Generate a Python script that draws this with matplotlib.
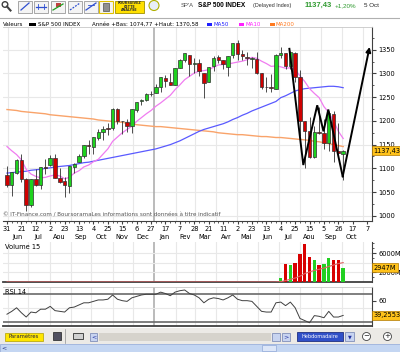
import numpy as np
import pandas as pd
import matplotlib
matplotlib.use("Agg")
import matplotlib.pyplot as plt
import matplotlib.dates as mdates
import matplotlib.transforms as mtransforms
from matplotlib.patches import Rectangle, Circle

# ---- weekly S&P 500 data ----
weeks = pd.date_range("2010-05-31", periods=71, freq="7D")

opens = [1087, 1065, 1091, 1117, 1077, 1023, 1078, 1065, 1103, 1107, 1122, 1079, 1073, 1063, 1103,
         1113, 1126, 1149, 1144, 1165, 1177, 1185, 1185, 1226, 1200, 1198, 1189, 1223, 1242, 1245,
         1256, 1258, 1271, 1290, 1283, 1276, 1311, 1329, 1340, 1321, 1322, 1302, 1281, 1315, 1334,
         1329, 1313, 1338, 1365, 1341, 1334, 1331, 1331, 1301, 1272, 1272, 1268, 1340, 1343, 1316,
         1344, 1292, 1199, 1179, 1124, 1177, 1174, 1153, 1214, 1136, 1131]
highs = [1106, 1092, 1119, 1131, 1079, 1078, 1099, 1103, 1120, 1128, 1130, 1100, 1081, 1105, 1112,
         1131, 1149, 1160, 1167, 1184, 1189, 1196, 1227, 1227, 1200, 1203, 1226, 1240, 1247, 1259,
         1263, 1278, 1293, 1296, 1302, 1311, 1330, 1344, 1340, 1333, 1331, 1302, 1314, 1337, 1339,
         1329, 1337, 1364, 1371, 1349, 1346, 1334, 1346, 1302, 1292, 1298, 1341, 1356, 1343, 1347,
         1346, 1307, 1199, 1208, 1190, 1230, 1204, 1220, 1220, 1195, 1138]
lows = [1061, 1042, 1088, 1071, 1011, 1018, 1063, 1056, 1089, 1106, 1079, 1069, 1040, 1048, 1091,
        1113, 1122, 1131, 1131, 1159, 1159, 1171, 1181, 1194, 1173, 1177, 1174, 1219, 1233, 1241,
        1252, 1258, 1262, 1271, 1275, 1276, 1311, 1324, 1294, 1302, 1294, 1249, 1281, 1306, 1322,
        1309, 1295, 1332, 1329, 1329, 1318, 1311, 1298, 1268, 1262, 1262, 1268, 1333, 1309, 1309,
        1282, 1168, 1101, 1121, 1122, 1172, 1140, 1136, 1114, 1127, 1075]
closes = [1064.9, 1091.6, 1117.5, 1076.8, 1022.6, 1078.0, 1064.9, 1102.7, 1101.6, 1121.6, 1079.3,
          1071.7, 1064.6, 1104.5, 1109.6, 1125.6, 1148.7, 1146.2, 1165.2, 1176.2, 1183.1, 1183.3,
          1225.9, 1199.2, 1199.7, 1189.4, 1224.7, 1240.4, 1243.9, 1256.8, 1257.6, 1271.5, 1293.2,
          1283.4, 1276.3, 1310.9, 1329.2, 1343.0, 1319.9, 1321.2, 1304.3, 1279.2, 1313.8, 1332.4,
          1328.2, 1319.7, 1337.4, 1363.6, 1340.2, 1337.8, 1333.3, 1331.1, 1300.2, 1271.0, 1271.5,
          1268.5, 1339.7, 1343.8, 1316.1, 1345.0, 1292.3, 1199.4, 1178.8, 1123.5, 1176.8, 1174.0,
          1154.2, 1216.0, 1136.4, 1131.4, 1137.43]

ma10 = [1146, 1137, 1129, 1118, 1098, 1088, 1083, 1080, 1081, 1084, 1086, 1084, 1078, 1081, 1090,
        1095, 1103, 1107, 1114, 1119, 1130, 1141, 1157, 1166, 1175, 1182, 1189, 1199, 1207, 1215,
        1222, 1231, 1238, 1246, 1254, 1266, 1276, 1287, 1294, 1301, 1305, 1306, 1308, 1313, 1318,
        1319, 1320, 1322, 1324, 1326, 1329, 1334, 1332, 1326, 1321, 1315, 1316, 1314, 1311, 1312,
        1308, 1295, 1283, 1268, 1258, 1249, 1230, 1218, 1200, 1178, 1163]
ma50 = [1090, 1091, 1092, 1093, 1094, 1096, 1097, 1098, 1100, 1101, 1103, 1104, 1105, 1106, 1108,
        1110, 1112, 1113, 1115, 1117, 1119, 1121, 1123, 1125, 1127, 1129, 1131, 1133, 1135, 1137,
        1139, 1141, 1144, 1147, 1150, 1154, 1158, 1163, 1168, 1173, 1178, 1182, 1185, 1188, 1191,
        1194, 1198, 1203, 1207, 1212, 1216, 1221, 1225, 1229, 1233, 1237, 1241, 1249, 1253, 1258,
        1263, 1266, 1268, 1269, 1270, 1271, 1272, 1273, 1273, 1272, 1270]
ma200 = [1224, 1223, 1222, 1220, 1219, 1218, 1217, 1216, 1215, 1213, 1212, 1211, 1210, 1209, 1208,
         1207, 1206, 1205, 1204, 1202, 1201, 1200, 1199, 1198, 1197, 1195, 1194, 1192, 1191, 1190,
         1189, 1188, 1188, 1187, 1186, 1185, 1184, 1183, 1182, 1181, 1180, 1179, 1178, 1177, 1175,
         1174, 1173, 1172, 1171, 1171, 1170, 1169, 1168, 1167, 1167, 1166, 1165, 1165, 1164, 1163,
         1162, 1161, 1160, 1159, 1157, 1156, 1154, 1152, 1150, 1148, 1146]

# volume only known for the last 14 weeks (millions)
vol = [870, 3830, 3620, 3970, 5900, 7970, 5220, 4510, 3620, 3830, 5010, 4510, 4510, 2947]
vol_up = [1, 0, 1, 0, 0, 0, 0, 1, 0, 1, 1, 0, 0, 1]
vol_ma15 = [0] * 57 + [58, 313, 555, 819, 1213, 1744, 2092, 2393, 2634, 2889, 3223, 3524, 3825, 4022]

rsi = [41, 45, 50, 43, 37, 44, 43, 48, 48, 52, 46, 45, 44, 50, 51, 54, 57, 57, 59, 61, 61, 62, 68,
       62, 60, 59, 64, 66, 68, 69, 69, 69, 72, 70, 67, 72, 74, 75, 70, 68, 64, 57, 62, 64, 63, 61,
       64, 68, 62, 60, 60, 59, 52, 45, 44, 44, 57, 58, 53, 58, 50, 35, 32, 29, 39, 38, 36, 45, 37,
       37, 39.26]

# hand drawn "W" on the chart: (week number, price)
draw_week = [58.8, 61.7, 64.6, 65.9, 66.9, 69.9, 75.5]
draw_price = [1352, 1107, 1233, 1178, 1224, 1083, 1356]

tick_days = pd.date_range("2010-05-31", "2011-11-07", freq="21D")
month_starts = pd.date_range("2010-06-01", "2011-11-01", freq="MS")
mois = ["Jan", "Fev", "Mar", "Avr", "Mai", "Jun", "Jul", "Aou", "Sep", "Oct", "Nov", "Dec"]

W, H = 400, 352
FS = 4.8
HEAD = "Liberation Sans"


def box(x0, y0, x1, y1):
    return [x0 / W, 1 - y1 / H, (x1 - x0) / W, (y1 - y0) / H]


fig = plt.figure(figsize=(4, 3.52), dpi=100)
fig.patch.set_facecolor("white")

# overlay in pixel coords for the page furniture
ov = fig.add_axes([0, 0, 1, 1], zorder=-5)
ov.set_xlim(0, W)
ov.set_ylim(H, 0)
ov.axis("off")

ax = fig.add_axes(box(3, 27, 372, 221))
axv = fig.add_axes(box(3, 242, 372, 282), sharex=ax)
axr = fig.add_axes(box(3, 287, 372, 326), sharex=ax)

x = mdates.date2num(weeks)
x0 = x[0]
o = np.array(opens); c = np.array(closes)
up = c >= o

# ---- price panel ----
ax.vlines(x, lows, highs, color="#303030", lw=0.6, zorder=3)
ax.bar(x, np.maximum(np.abs(c - o), 1.0), bottom=np.minimum(o, c), width=5,
       color=np.where(up, "#1ed21e", "#d00000"), edgecolor="#303030", lw=0.5, zorder=4)
ax.plot(x, ma200, color="#f9a36a", lw=1.0, zorder=2)
ax.plot(x, ma50, color="#5a5aff", lw=0.9, zorder=2)
ax.plot(x, ma10, color="#f07cf0", lw=0.9, zorder=2)

px = x0 + np.array(draw_week) * 7
ax.plot(px[:-1], draw_price[:-1], color="black", lw=1.4, zorder=6, solid_joinstyle="miter")
ax.annotate("", xy=(px[-1], draw_price[-1]), xytext=(px[-2], draw_price[-2]),
            arrowprops=dict(arrowstyle="-|>", color="black", lw=1.4, mutation_scale=7,
                            shrinkA=0, shrinkB=0), zorder=6)

ax.set_xlim(x0 - 5.8, x0 + 532)
ax.set_ylim(989, 1398)
ax.set_yticks(range(1000, 1351, 50))
ax.set_yticks(range(1000, 1400, 25), minor=True)
ax.yaxis.tick_right()
ax.tick_params(axis="y", which="major", labelsize=FS, length=3, pad=1.5, color="#404040")
ax.tick_params(axis="y", which="minor", length=1.5, color="#404040")
for yv in range(1000, 1401, 50):
    ax.axhline(yv, color="#e8e8e8", lw=0.8, zorder=0)

for a in (ax, axv, axr):
    for m in month_starts:
        yr = m.month == 1
        a.axvline(mdates.date2num(m), color="#a8a8a8" if yr else "#e8e8e8",
                  lw=1.1 if yr else 0.8, zorder=0)
    a.spines["left"].set_visible(False)
    a.spines["right"].set_color("#404040")
    a.spines["bottom"].set_color("#404040")
    a.spines["top"].set_color("#c8c8c8")
    a.spines["top"].set_linewidth(0.6)

ax.set_xticks(mdates.date2num(tick_days))
ax.set_xticklabels([str(d.day) for d in tick_days])
ax.set_xticks(x, minor=True)
ax.tick_params(axis="x", which="major", labelsize=FS, length=2.5, pad=1.3, color="#404040")
ax.tick_params(axis="x", which="minor", length=1.5, color="#404040")
bt = mtransforms.blended_transform_factory(ax.transData, ax.transAxes)
for m in month_starts[:-1]:
    mx = max(mdates.date2num(m) + 14, x0 + 1)
    ax.text(mx, -0.083, mois[m.month - 1], transform=bt, ha="center", va="center",
            fontsize=FS, clip_on=False)

ax.text(0.0, 0.03, "© IT-Finance.com / BoursoramaLes informations sont données à titre indicatif",
        transform=ax.transAxes, fontsize=4.1, color="#555555", va="center")

label_box = dict(boxstyle="square,pad=0.25", fc="#ffc21a", ec="#b07800", lw=0.5)
rt = mtransforms.blended_transform_factory(ax.transAxes, ax.transData)
ax.text(1.004, closes[-1], "1137,43", transform=rt, fontsize=FS, va="center", ha="left",
        zorder=10, clip_on=False, bbox=label_box)

# ---- volume panel ----
axv.bar(x[57:], vol, width=5, color=["#22d022" if u else "#d80000" for u in vol_up], zorder=3)
axv.plot(x, vol_ma15, color="#e06060", lw=0.8, zorder=4)
axv.set_ylim(0, 8300)
axv.yaxis.tick_right()
axv.set_yticks([2000, 6000])
axv.set_yticklabels(["2000M", "6000M"])
axv.set_yticks([1000, 3000, 4000, 5000, 7000, 8000], minor=True)
axv.tick_params(axis="y", which="major", labelsize=FS, length=3, pad=1.5, color="#404040")
axv.tick_params(axis="y", which="minor", length=1.5, color="#404040")
axv.tick_params(axis="x", which="both", length=0, labelbottom=False)
axv.spines["top"].set_visible(False)
axv.spines["bottom"].set_linewidth(1.3)
for yv in (2000, 4000, 6000):
    axv.axhline(yv, color="#e8e8e8", lw=0.8, zorder=0)
axv.text(0.006, 0.87, "Volume 15", transform=axv.transAxes, fontsize=FS, va="center")
vt = mtransforms.blended_transform_factory(axv.transAxes, axv.transData)
axv.text(1.004, vol[-1], "2947M", transform=vt, fontsize=FS, va="center", ha="left",
         zorder=10, clip_on=False, bbox=label_box)

# ---- RSI panel ----
axr.plot(x, rsi, color="#404040", lw=0.7, zorder=3)
axr.axhline(70, color="#6a6a6a", lw=1.2, zorder=2)
axr.axhline(30, color="#6a6a6a", lw=1.2, zorder=2)
axr.axhline(50, color="#e8e8e8", lw=0.8, zorder=0)
axr.set_ylim(24.4, 79.2)
axr.yaxis.tick_right()
axr.set_yticks([60])
axr.tick_params(axis="y", labelsize=FS, length=3, pad=1.5, color="#404040")
axr.tick_params(axis="x", which="both", length=0, labelbottom=False)
axr.spines["bottom"].set_linewidth(1.3)
axr.text(0.006, 0.86, "RSI 14", transform=axr.transAxes, fontsize=FS, va="center")
rrt = mtransforms.blended_transform_factory(axr.transAxes, axr.transData)
axr.text(1.004, rsi[-1], "39,2553", transform=rrt, fontsize=FS, va="center", ha="left",
         zorder=10, clip_on=False, bbox=label_box)

# ---- header ----
ov.plot([0, W], [17.5, 17.5], color="#b0b0b0", lw=0.8)
ov.add_patch(Circle((5, 4.5), 2.8, fill=False, ec="#404040", lw=1))
ov.plot([7, 10.5], [6.5, 10.5], color="#404040", lw=1.5)
for bx in (18, 34, 51, 68, 84):
    ov.add_patch(Rectangle((bx, 0.5), 14, 12, fc="#f4f4f4", ec="#9a9a9a", lw=0.6))
ov.plot([21, 29], [10, 3], color="#3050d0", lw=0.9)
ov.plot([36, 46], [6.5, 6.5], color="#3050d0", lw=0.9)
ov.plot([38, 38], [4, 9], color="#3050d0", lw=0.6)
ov.plot([44, 44], [4, 9], color="#3050d0", lw=0.6)
ov.plot([53, 63], [10, 4], color="#20a020", lw=0.9)
ov.add_patch(Rectangle((56, 2.5), 5, 4, fc="#c04040", ec="none"))
ov.plot([70, 80], [10, 3], color="#3050d0", lw=0.9, ls=(0, (1.5, 1)))
ov.plot([86, 96], [10, 3], color="#3050d0", lw=0.9)
ov.plot([88, 94], [5, 5], color="#3050d0", lw=0.6)
ov.add_patch(Rectangle((99, 0.5), 14, 12, fc="#f4f4f4", ec="#e0c000", lw=0.8))
ov.add_patch(Rectangle((103, 3), 6, 8, fc="#909090", ec="#505050", lw=0.5))
ov.add_patch(Rectangle((115, 0.5), 29, 12, fc="#ffe000", ec="#a09000", lw=0.6))
ov.text(129.5, 6.5, "POURSUIVEZ\nCETTE\nANALYSE", fontsize=2.4, ha="center", va="center",
        fontweight="bold", color="#303030", linespacing=0.9)
ov.add_patch(Circle((154, 5.5), 5, fc="#e8eef8", ec="#b0b000", lw=0.8))

ov.text(181, 5.5, "SP'A", fontsize=4.2, color="#505050", va="center", family=HEAD)
ov.text(198, 5.5, "S&P 500 INDEX", fontsize=4.7, fontweight="bold", va="center", family=HEAD)
ov.text(253, 5.5, "(Delayed Index)", fontsize=3.9, color="#303030", va="center", family=HEAD)
ov.text(305, 5.5, "1137,43", fontsize=5.5, fontweight="bold", color="#2f9a2f", va="center",
        family=HEAD)
ov.text(335, 5.5, "+1,20%", fontsize=4.5, color="#2f9a2f", va="center", family=HEAD)
ov.text(364, 5.5, "5 Oct", fontsize=4.5, color="#202020", va="center", family=HEAD)

LF = 4.0
ov.text(3, 24, "Valeurs", fontsize=LF, va="center")
ov.add_patch(Rectangle((29, 22.5), 7, 3, fc="black"))
ov.text(38, 24, "S&P 500 INDEX", fontsize=LF, va="center")
ov.text(92, 24, "Année +Bas: 1074,77 +Haut: 1370,58", fontsize=LF, va="center")
for lx, lab, col in ((207, "MA50", "#2020ff"), (239, "MA10", "#ff20ff"), (270, "MA200", "#ff7a20")):
    ov.add_patch(Rectangle((lx, 22.5), 5, 3, fc=col))
    ov.text(lx + 6, 24, lab, fontsize=LF, color=col, va="center")

# ---- bottom toolbar ----
ov.add_patch(Rectangle((0, 328), W, 24, fc="#eceae6", ec="none"))
ov.add_patch(Rectangle((5, 332.5), 38, 8.5, fc="#ffe600", ec="#b0a000", lw=0.5))
ov.text(24, 336.8, "Paramètres", fontsize=3.8, ha="center", va="center", color="#202040")
ov.add_patch(Rectangle((53, 332), 8, 8, fc="#505060", ec="#202020", lw=0.5))
ov.plot([65, 65], [329, 343], color="#909090", lw=0.5)
ov.add_patch(Rectangle((73, 333), 10, 6, fc="#d0d0d0", ec="#303030", lw=0.6))
ov.add_patch(Rectangle((90, 332.5), 7, 8, fc="#c8d4f0", ec="#7080b0", lw=0.5))
ov.text(93.5, 336.5, "<", fontsize=4.5, ha="center", va="center", color="#2030a0")
ov.add_patch(Rectangle((99, 332.5), 172, 8, fc="#d6d3cc", ec="none"))
ov.add_patch(Rectangle((272, 332.5), 8, 8, fc="#c8d4f0", ec="#7080b0", lw=0.5))
ov.add_patch(Rectangle((282, 332.5), 8, 8, fc="#c8d4f0", ec="#7080b0", lw=0.5))
ov.text(286, 336.5, ">", fontsize=4.5, ha="center", va="center", color="#2030a0")
ov.add_patch(Rectangle((297, 332), 46, 9, fc="#3050c8", ec="#203080", lw=0.6))
ov.text(320, 336.5, "Hebdomadaire", fontsize=3.6, ha="center", va="center", color="white")
ov.add_patch(Rectangle((345, 332), 9, 9, fc="#c8d4f0", ec="#7080b0", lw=0.5))
ov.text(349.5, 336.5, "▼", fontsize=3.5, ha="center", va="center", color="#2030a0")
for cx, s in ((366.5, "−"), (387.5, "+")):
    ov.add_patch(Circle((cx, 336.5), 4, fc="white", ec="#404040", lw=0.6))
    ov.text(cx, 336.3, s, fontsize=5, ha="center", va="center", color="#202020")
ov.add_patch(Rectangle((0, 344), W, 8, fc="#c4d6f2", ec="#90a8d8", lw=0.5))
ov.text(1.5, 347.5, "<", fontsize=4.5, va="center", color="#203080")
ov.add_patch(Rectangle((262, 345), 14, 6, fc="#dce6f8", ec="#90a8d8", lw=0.5))

fig.savefig("out.png", dpi=100, facecolor="white")
